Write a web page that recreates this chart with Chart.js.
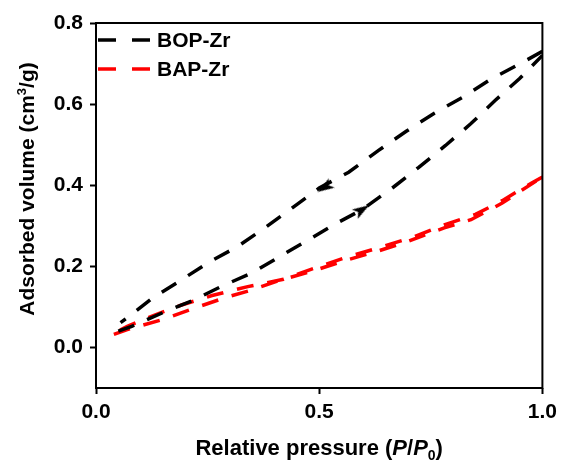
<!DOCTYPE html>
<html>
<head>
<meta charset="utf-8">
<script src="https://cdn.jsdelivr.net/npm/chart.js@4/dist/chart.umd.min.js"></script>
<style>
  html, body { margin: 0; padding: 0; background: #fff; }
  #wrap { width: 563px; height: 461px; }
</style>
</head>
<body>
<div id="wrap"><canvas id="isoChart" width="563" height="461"></canvas></div>
<script>
// BOP-Zr adsorption branch (lower)
const bopAdsX = [0.05, 0.08, 0.15, 0.215, 0.28, 0.35, 0.41, 0.48, 0.54, 0.595, 0.666, 0.723, 0.783, 0.84, 0.894, 0.949, 1.0];
const bopAdsY = [0.04, 0.052, 0.086, 0.115, 0.15, 0.184, 0.223, 0.268, 0.307, 0.339, 0.395, 0.444, 0.498, 0.552, 0.609, 0.663, 0.72];
// BOP-Zr desorption branch (upper)
const bopDesX = [1.0, 0.949, 0.887, 0.82, 0.757, 0.695, 0.633, 0.566, 0.50, 0.442, 0.381, 0.316, 0.254, 0.192, 0.128, 0.071, 0.055];
const bopDesY = [0.73, 0.699, 0.663, 0.616, 0.577, 0.533, 0.486, 0.432, 0.393, 0.346, 0.297, 0.248, 0.211, 0.167, 0.123, 0.074, 0.061];
// BAP-Zr adsorption / desorption
const bapAdsX = [0.04, 0.07, 0.15, 0.21, 0.29, 0.35, 0.41, 0.49, 0.56, 0.63, 0.70, 0.78, 0.84, 0.91, 0.95, 1.0];
const bapAdsY = [0.032, 0.044, 0.069, 0.093, 0.123, 0.142, 0.165, 0.19, 0.215, 0.237, 0.262, 0.295, 0.315, 0.356, 0.385, 0.42];
const bapDesX = [1.0, 0.975, 0.91, 0.85, 0.78, 0.71, 0.64, 0.56, 0.48, 0.42, 0.34, 0.26, 0.19, 0.12, 0.07, 0.04];
const bapDesY = [0.42, 0.405, 0.362, 0.328, 0.302, 0.272, 0.248, 0.222, 0.192, 0.168, 0.15, 0.128, 0.104, 0.075, 0.052, 0.035];
// direction arrows on BOP-Zr
const arrowX = [0.513, 0.595];
const arrowY = [0.395, 0.339];
const arrowRot = [238, 58];
// ticks
const xTicks = [0.0, 0.5, 1.0];
const yTicks = [0.0, 0.2, 0.4, 0.6, 0.8];

const FONT = '"Liberation Sans", Arial, sans-serif';

function pts(xs, ys) {
    return xs.map((x, i) => ({ x: x, y: ys[i] }));
}

// Narrow arrowhead glyph, pointing up; rotated per point by Chart.js
function makeArrowHead() {
    const c = document.createElement('canvas');
    c.width = 20;
    c.height = 20;
    const g = c.getContext('2d');
    g.fillStyle = '#000';
    g.beginPath();
    g.moveTo(10, 1);
    g.lineTo(4.5, 18);
    g.lineTo(10, 14);
    g.lineTo(15.5, 18);
    g.closePath();
    g.fill();
    return c;
}

// Draw the closed frame round the plot area
const framePlugin = {
    id: 'frame',
    afterDraw(chart) {
        const a = chart.chartArea;
        const ctx = chart.ctx;
        ctx.save();
        ctx.strokeStyle = '#000';
        ctx.lineWidth = 2;
        ctx.strokeRect(a.left, a.top, a.right - a.left, a.bottom - a.top);
        ctx.restore();
    }
};

// Simple legend inside the plot, top-left, with dashed samples
const dashLegend = {
    id: 'dashLegend',
    afterDraw(chart) {
        const a = chart.chartArea;
        const ctx = chart.ctx;
        const items = chart.data.datasets.filter(d => !d.label.startsWith('_'));
        ctx.save();
        items.forEach((d, i) => {
            const y = a.top + 17 + i * 29;
            ctx.strokeStyle = d.borderColor;
            ctx.lineWidth = 3.5;
            ctx.setLineDash([18, 16]);
            ctx.beginPath();
            ctx.moveTo(a.left + 2, y);
            ctx.lineTo(a.left + 55, y);
            ctx.stroke();
            ctx.setLineDash([]);
            ctx.fillStyle = '#000';
            ctx.font = 'bold 21px ' + FONT;
            ctx.textBaseline = 'middle';
            ctx.fillText(d.label, a.left + 61, y + 1);
        });
        ctx.restore();
    }
};

// Axis titles with italic / sub / superscript parts
function drawRich(ctx, parts, cx, y) {
    let total = 0;
    parts.forEach(p => { ctx.font = p.f; total += ctx.measureText(p.t).width; });
    let x = cx - total / 2;
    parts.forEach(p => {
        ctx.font = p.f;
        ctx.fillText(p.t, x, y + (p.dy || 0));
        x += ctx.measureText(p.t).width;
    });
}

const axisTitles = {
    id: 'axisTitles',
    afterDraw(chart) {
        const a = chart.chartArea;
        const ctx = chart.ctx;
        const big = 'bold 21px ' + FONT;
        const small = 'bold 13px ' + FONT;
        ctx.save();
        ctx.fillStyle = '#000';
        ctx.textBaseline = 'alphabetic';
        drawRich(ctx, [
            { t: 'Relative pressure (', f: 'bold 22px ' + FONT },
            { t: 'P', f: 'italic bold 22px ' + FONT },
            { t: '/', f: 'bold 22px ' + FONT },
            { t: 'P', f: 'italic bold 22px ' + FONT },
            { t: '0', f: 'bold 14px ' + FONT, dy: 5 },
            { t: ')', f: 'bold 22px ' + FONT }
        ], (a.left + a.right) / 2, 455);
        ctx.translate(34, 189);
        ctx.rotate(-Math.PI / 2);
        drawRich(ctx, [
            { t: 'Adsorbed volume (cm', f: big },
            { t: '3', f: small, dy: -8 },
            { t: '/g)', f: big }
        ], 0, 0);
        ctx.restore();
    }
};

const lineStyle = (color, label) => ({
    label: label,
    borderColor: color,
    backgroundColor: color,
    borderWidth: 3.5,
    borderDash: [17, 14],
    pointRadius: 0,
    tension: 0,
    fill: false
});

const arrowHead = makeArrowHead();

const ctx = document.getElementById('isoChart').getContext('2d');
new Chart(ctx, {
    type: 'line',
    data: {
        datasets: [
            Object.assign(lineStyle('#000', 'BOP-Zr'), { data: pts(bopAdsX, bopAdsY) }),
            Object.assign(lineStyle('#000', '_bopDes'), { data: pts(bopDesX, bopDesY) }),
            Object.assign(lineStyle('#ff0000', 'BAP-Zr'), { data: pts(bapAdsX, bapAdsY) }),
            Object.assign(lineStyle('#ff0000', '_bapDes'), { data: pts(bapDesX, bapDesY) }),
            {
                label: '_arrows',
                data: pts(arrowX, arrowY),
                showLine: false,
                pointStyle: arrowHead,
                pointRadius: 10,
                pointRotation: c => arrowRot[c.dataIndex],
                backgroundColor: '#000',
                borderColor: '#000'
            }
        ]
    },
    options: {
        responsive: false,
        animation: false,
        layout: { padding: { left: 10, right: 15, top: 23, bottom: 0 } },
        plugins: {
            tooltip: { enabled: false },
            legend: { display: false }
        },
        scales: {
            x: {
                type: 'linear',
                min: 0,
                max: 1.0,
                afterBuildTicks: scale => { scale.ticks = xTicks.map(v => ({ value: v })); },
                afterFit: scale => { scale.height = 73; },
                border: { display: false },
                grid: { drawOnChartArea: false, tickLength: 6, tickWidth: 2, tickColor: '#000' },
                ticks: {
                    color: '#000',
                    padding: 6,
                    font: { family: FONT, size: 21, weight: 'bold' },
                    callback: v => v.toFixed(1)
                },
                title: { display: false }
            },
            y: {
                type: 'linear',
                min: -0.1,
                max: 0.8,
                afterBuildTicks: scale => { scale.ticks = yTicks.map(v => ({ value: v })); },
                afterFit: scale => { scale.width = 86; },
                border: { display: false },
                grid: { drawOnChartArea: false, tickLength: 6, tickWidth: 2, tickColor: '#000' },
                ticks: {
                    color: '#000',
                    padding: 7,
                    font: { family: FONT, size: 21, weight: 'bold' },
                    callback: v => v.toFixed(1)
                },
                title: { display: false }
            }
        }
    },
    plugins: [framePlugin, dashLegend, axisTitles]
});
</script>
</body>
</html>
